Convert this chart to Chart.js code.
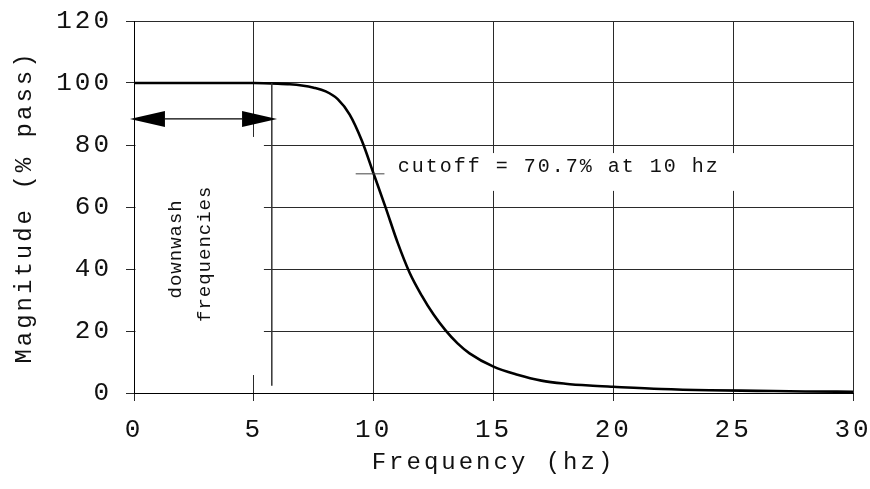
<!DOCTYPE html>
<html>
<head>
<meta charset="utf-8">
<script src="https://cdn.jsdelivr.net/npm/chart.js@4/dist/chart.umd.min.js"></script>
<style>
  html, body { margin: 0; padding: 0; background: #fff; }
  #wrap { width: 870px; height: 489px; }
</style>
</head>
<body>
<div id="wrap"><canvas id="filterChart" width="870" height="489"></canvas></div>
<script>
// Low-pass filter response
const freqHz = [0, 2, 4, 5, 6, 6.5, 7, 7.5, 8, 8.5, 9, 9.5, 10, 10.5, 11, 11.5, 12, 12.5, 13, 13.5, 14, 15, 16, 17, 18, 19, 20, 22, 24, 26, 28, 30];
const magnitudePct = [100, 100, 100, 100, 99.8, 99.6, 99.2, 98.5, 97.3, 94.8, 89.8, 81.5, 70.7, 59.8, 48.5, 38.8, 31.5, 25.3, 20.2, 16.0, 12.8, 8.5, 5.9, 4.0, 3.0, 2.4, 2.0, 1.3, 0.9, 0.7, 0.5, 0.4];

const xTicks = [0, 5, 10, 15, 20, 25, 30];
const yTicks = [0, 20, 40, 60, 80, 100, 120];

// annotation values (data units)
const cutoffHz = 10;
const cutoffPct = 70.7;
const cutoffLabel = "cutoff = 70.7% at 10 hz";
const downwashEdgeHz = 5.75;
const downwashLabel = ["downwash", "frequencies"];

const MONO = "'Liberation Mono', 'DejaVu Sans Mono', monospace";

/* ============================
   ANNOTATION PLUGIN
============================ */

const annotations = {
  id: "annotations",
  beforeDraw(chart) {
    chart.ctx.letterSpacing = "3px";
  },
  beforeDatasetsDraw(chart) {
    const { ctx, scales: { x, y } } = chart;
    ctx.save();
    ctx.fillStyle = "#fff";
    // blank out grid behind the downwash label
    ctx.fillRect(x.getPixelForValue(0.06), y.getPixelForValue(82.6),
      x.getPixelForValue(5.42) - x.getPixelForValue(0.06),
      y.getPixelForValue(5.8) - y.getPixelForValue(82.6));
    // blank out grid behind the cutoff label
    ctx.fillRect(x.getPixelForValue(10.75), y.getPixelForValue(77.4),
      x.getPixelForValue(29.9) - x.getPixelForValue(10.75),
      y.getPixelForValue(65.2) - y.getPixelForValue(77.4));
    ctx.restore();
  },
  afterDatasetsDraw(chart) {
    const { ctx, scales: { x, y } } = chart;
    ctx.save();

    // edge of downwash band
    ctx.strokeStyle = "#333";
    ctx.lineWidth = 1.5;
    ctx.beginPath();
    ctx.moveTo(x.getPixelForValue(downwashEdgeHz), y.getPixelForValue(100));
    ctx.lineTo(x.getPixelForValue(downwashEdgeHz), y.getPixelForValue(2.3));
    ctx.stroke();

    // double headed arrow
    const ay = y.getPixelForValue(88.4);
    const ax0 = x.getPixelForValue(-0.17);
    const ax1 = x.getPixelForValue(5.97);
    const head = 35, half = 8;
    ctx.strokeStyle = "#000";
    ctx.lineWidth = 1.3;
    ctx.beginPath();
    ctx.moveTo(ax0 + head, ay);
    ctx.lineTo(ax1 - head, ay);
    ctx.stroke();
    ctx.fillStyle = "#000";
    ctx.beginPath();
    ctx.moveTo(ax0, ay);
    ctx.lineTo(ax0 + head, ay - half);
    ctx.lineTo(ax0 + head, ay + half);
    ctx.closePath();
    ctx.fill();
    ctx.beginPath();
    ctx.moveTo(ax1, ay);
    ctx.lineTo(ax1 - head, ay - half);
    ctx.lineTo(ax1 - head, ay + half);
    ctx.closePath();
    ctx.fill();

    // cutoff marker
    ctx.strokeStyle = "#444";
    ctx.lineWidth = 1;
    ctx.beginPath();
    ctx.moveTo(x.getPixelForValue(cutoffHz - 0.75), y.getPixelForValue(cutoffPct));
    ctx.lineTo(x.getPixelForValue(cutoffHz + 0.45), y.getPixelForValue(cutoffPct));
    ctx.stroke();

    ctx.fillStyle = "#111";
    ctx.font = "20px " + MONO;
    ctx.letterSpacing = "2px";
    ctx.textAlign = "left";
    ctx.textBaseline = "middle";
    ctx.fillText(cutoffLabel, x.getPixelForValue(11.0), y.getPixelForValue(72.9));

    // rotated downwash label
    ctx.font = "19px " + MONO;
    ctx.letterSpacing = "1px";
    ctx.textAlign = "center";
    const lx = [1.76, 2.96];
    const ly = [46.5, 44.9];
    downwashLabel.forEach((txt, i) => {
      ctx.save();
      ctx.translate(x.getPixelForValue(lx[i]), y.getPixelForValue(ly[i]));
      ctx.rotate(-Math.PI / 2);
      ctx.fillText(txt, 0, 0);
      ctx.restore();
    });

    ctx.restore();
  }
};

// keep the plot box fixed; labels may overhang into the margins
function noPad(s) {
  s.paddingTop = s.paddingBottom = s.paddingLeft = s.paddingRight = 0;
}

/* ============================
   CHART
============================ */

new Chart(document.getElementById("filterChart"), {
  type: "line",
  data: {
    datasets: [{
      data: freqHz.map((f, i) => ({ x: f, y: magnitudePct[i] })),
      borderColor: "#000",
      borderWidth: 2.6,
      pointRadius: 0,
      cubicInterpolationMode: "monotone",
      fill: false,
    }],
  },
  options: {
    responsive: false,
    animation: false,
    events: [],
    layout: { padding: { top: 21, right: 17, left: 0, bottom: 0 } },
    plugins: { legend: { display: false }, tooltip: { enabled: false } },
    scales: {
      x: {
        type: "linear",
        min: 0,
        max: 30,
        afterBuildTicks: (s) => { s.ticks = xTicks.map((v) => ({ value: v })); },
        afterFit: (s) => { s.height = 96; noPad(s); },
        grid: { color: "#2a2a2a", lineWidth: 1, tickLength: 8 },
        border: { color: "#000", width: 1 },
        ticks: {
          color: "#111",
          padding: 14,
          maxRotation: 0,
          font: { family: MONO, size: 26 },
        },
        title: {
          display: true,
          text: "Frequency (hz)",
          color: "#111",
          font: { family: MONO, size: 24 },
          padding: { top: 0, bottom: 12 },
        },
      },
      y: {
        type: "linear",
        min: 0,
        max: 120,
        afterBuildTicks: (s) => { s.ticks = yTicks.map((v) => ({ value: v })); },
        afterFit: (s) => { s.width = 134; noPad(s); },
        grid: { color: "#2a2a2a", lineWidth: 1, tickLength: 8 },
        border: { color: "#000", width: 1 },
        ticks: {
          color: "#111",
          padding: 14,
          font: { family: MONO, size: 26 },
        },
        title: {
          display: true,
          text: "Magnitude (% pass)",
          color: "#111",
          font: { family: MONO, size: 24 },
          padding: { top: 10, bottom: 0 },
        },
      },
    },
  },
  plugins: [annotations],
});
</script>
</body>
</html>
